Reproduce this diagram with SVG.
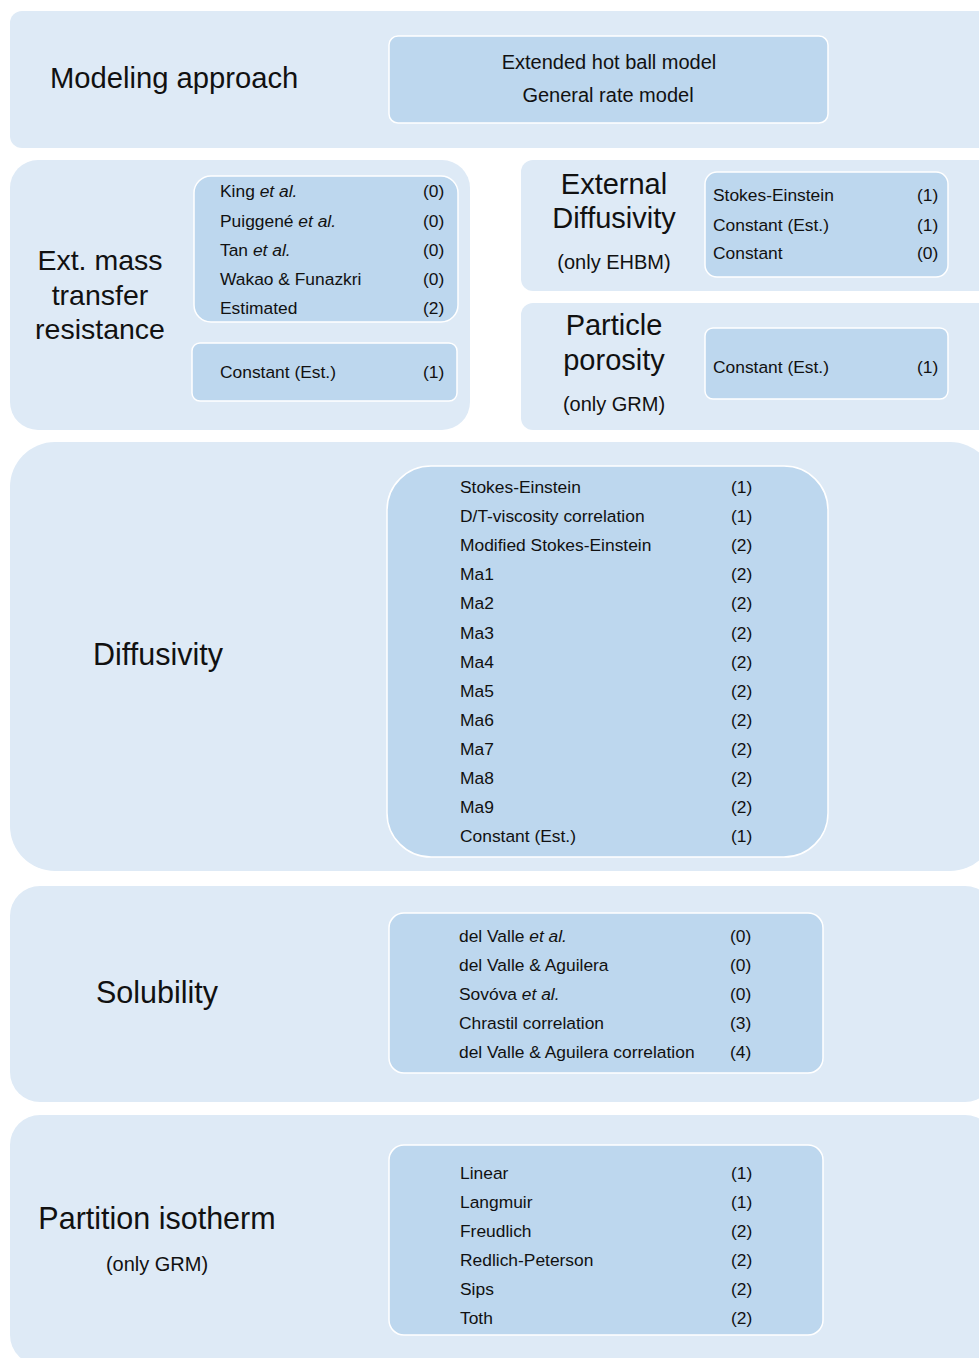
<svg xmlns="http://www.w3.org/2000/svg" width="979" height="1358" viewBox="0 0 979 1358">
<style>
.outer{fill:#deeaf6;}
.inner{fill:#bdd7ee;stroke:#ffffff;stroke-width:1.5;}
text{font-family:"Liberation Sans",Arial,sans-serif;fill:#111111;}
.t{font-size:29px;}
.tl{font-size:30.5px;}
.s{font-size:20px;}
.i{font-size:17.4px;}
.m{font-size:20px;}
.it{font-style:italic;}
.c{text-anchor:middle;}
</style>
<rect width="979" height="1358" fill="#ffffff"/>
<g id="connectors"></g>

<g id="modeling">
<rect class="outer" x="10" y="11" width="985" height="137" rx="12"/>
<text x="50" y="88" font-size="29.2">Modeling approach</text>
<rect class="inner" x="389" y="36" width="439" height="87" rx="9"/>
<text class="m c" x="609" y="69">Extended hot ball model</text>
<text class="m c" x="608" y="102">General rate model</text>
</g>

<g id="ext-mass">
<rect class="outer" x="10" y="160" width="460" height="270" rx="28"/>
<text class="c" x="100" y="270" font-size="28.5">Ext. mass</text>
<text class="c" x="100" y="305" font-size="28.5">transfer</text>
<text class="c" x="100" y="339" font-size="28.5">resistance</text>
<rect class="inner" x="194" y="176" width="264" height="146" rx="17"/>
<text class="i" x="220" y="197">King <tspan class="it">et al.</tspan></text>
<text class="i" x="423" y="197">(0)</text>
<text class="i" x="220" y="227">Puiggené <tspan class="it">et al.</tspan></text>
<text class="i" x="423" y="227">(0)</text>
<text class="i" x="220" y="256">Tan <tspan class="it">et al.</tspan></text>
<text class="i" x="423" y="256">(0)</text>
<text class="i" x="220" y="285">Wakao &amp; Funazkri</text>
<text class="i" x="423" y="285">(0)</text>
<text class="i" x="220" y="314">Estimated</text>
<text class="i" x="423" y="314">(2)</text>
<rect class="inner" x="192" y="343" width="265" height="58" rx="8"/>
<text class="i" x="220" y="378">Constant (Est.)</text>
<text class="i" x="423" y="378">(1)</text>
</g>

<g id="ext-diffusivity">
<rect class="outer" x="521" y="160" width="475" height="131" rx="12"/>
<text class="t c" x="614" y="194">External</text>
<text class="t c" x="614" y="228">Diffusivity</text>
<text class="s c" x="614" y="269">(only EHBM)</text>
<rect class="inner" x="705" y="172" width="243" height="105" rx="12"/>
<text class="i" x="713" y="201">Stokes-Einstein</text>
<text class="i" x="917" y="201">(1)</text>
<text class="i" x="713" y="231">Constant (Est.)</text>
<text class="i" x="917" y="231">(1)</text>
<text class="i" x="713" y="259">Constant</text>
<text class="i" x="917" y="259">(0)</text>
</g>

<g id="particle-porosity">
<rect class="outer" x="521" y="303" width="475" height="127" rx="12"/>
<text class="t c" x="614" y="335">Particle</text>
<text class="t c" x="614" y="370">porosity</text>
<text class="s c" x="614" y="411">(only GRM)</text>
<rect class="inner" x="705" y="328" width="243" height="71" rx="8"/>
<text class="i" x="713" y="373">Constant (Est.)</text>
<text class="i" x="917" y="373">(1)</text>
</g>

<g id="diffusivity">
<rect class="outer" x="10" y="442" width="985" height="429" rx="45"/>
<text class="tl c" x="158" y="665">Diffusivity</text>
<rect class="inner" x="387" y="466" width="441" height="391" rx="44"/>
<text class="i" x="460" y="493">Stokes-Einstein</text><text class="i" x="731" y="493">(1)</text>
<text class="i" x="460" y="522">D/T-viscosity correlation</text><text class="i" x="731" y="522">(1)</text>
<text class="i" x="460" y="551">Modified Stokes-Einstein</text><text class="i" x="731" y="551">(2)</text>
<text class="i" x="460" y="580">Ma1</text><text class="i" x="731" y="580">(2)</text>
<text class="i" x="460" y="609">Ma2</text><text class="i" x="731" y="609">(2)</text>
<text class="i" x="460" y="639">Ma3</text><text class="i" x="731" y="639">(2)</text>
<text class="i" x="460" y="668">Ma4</text><text class="i" x="731" y="668">(2)</text>
<text class="i" x="460" y="697">Ma5</text><text class="i" x="731" y="697">(2)</text>
<text class="i" x="460" y="726">Ma6</text><text class="i" x="731" y="726">(2)</text>
<text class="i" x="460" y="755">Ma7</text><text class="i" x="731" y="755">(2)</text>
<text class="i" x="460" y="784">Ma8</text><text class="i" x="731" y="784">(2)</text>
<text class="i" x="460" y="813">Ma9</text><text class="i" x="731" y="813">(2)</text>
<text class="i" x="460" y="842">Constant (Est.)</text><text class="i" x="731" y="842">(1)</text>
</g>

<g id="solubility">
<rect class="outer" x="10" y="886" width="985" height="216" rx="30"/>
<text class="tl c" x="157" y="1003">Solubility</text>
<rect class="inner" x="389" y="913" width="434" height="160" rx="15"/>
<text class="i" x="459" y="942">del Valle <tspan class="it">et al.</tspan></text><text class="i" x="730" y="942">(0)</text>
<text class="i" x="459" y="971">del Valle &amp; Aguilera</text><text class="i" x="730" y="971">(0)</text>
<text class="i" x="459" y="1000">Sovóva <tspan class="it">et al.</tspan></text><text class="i" x="730" y="1000">(0)</text>
<text class="i" x="459" y="1029">Chrastil correlation</text><text class="i" x="730" y="1029">(3)</text>
<text class="i" x="459" y="1058">del Valle &amp; Aguilera correlation</text><text class="i" x="730" y="1058">(4)</text>
</g>

<g id="partition">
<rect class="outer" x="10" y="1115" width="985" height="250" rx="30"/>
<text class="tl c" x="157" y="1229">Partition isotherm</text>
<text class="s c" x="157" y="1271">(only GRM)</text>
<rect class="inner" x="389" y="1145" width="434" height="190" rx="15"/>
<text class="i" x="460" y="1179">Linear</text><text class="i" x="731" y="1179">(1)</text>
<text class="i" x="460" y="1208">Langmuir</text><text class="i" x="731" y="1208">(1)</text>
<text class="i" x="460" y="1237">Freudlich</text><text class="i" x="731" y="1237">(2)</text>
<text class="i" x="460" y="1266">Redlich-Peterson</text><text class="i" x="731" y="1266">(2)</text>
<text class="i" x="460" y="1295">Sips</text><text class="i" x="731" y="1295">(2)</text>
<text class="i" x="460" y="1324">Toth</text><text class="i" x="731" y="1324">(2)</text>
</g>
</svg>
